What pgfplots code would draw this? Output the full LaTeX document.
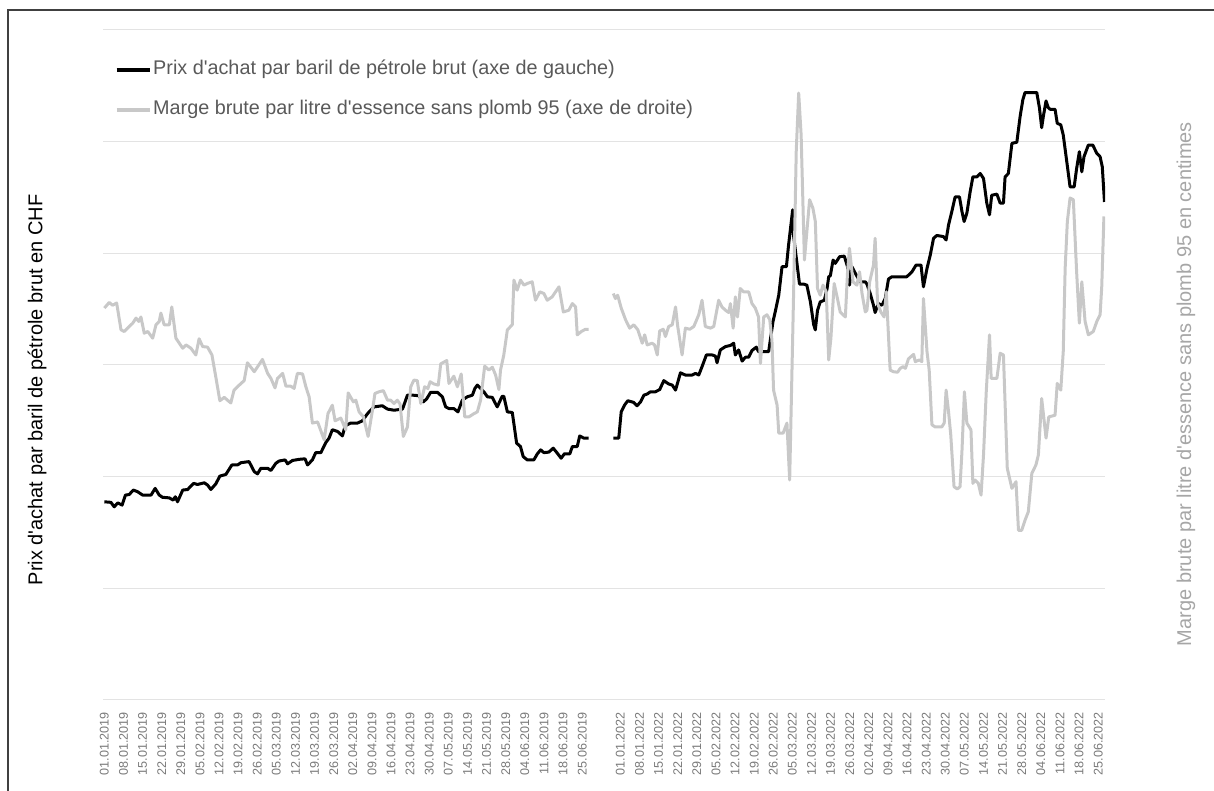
\documentclass[border=0pt]{standalone}
\usepackage{fontspec}
\setmainfont{Liberation Sans}[Ligatures=TeXOff]
\usepackage{pgfplots}
\pgfplotsset{compat=1.18}
\definecolor{gridc}{HTML}{E3E3E3}
\definecolor{grayline}{HTML}{C8C8C8}
\definecolor{ticktext}{HTML}{7A7A7A}
\definecolor{legtext}{HTML}{595959}
\definecolor{rlab}{HTML}{A6A6A6}
\definecolor{framec}{HTML}{404040}
\begin{document}
\begin{tikzpicture}
\begin{axis}[
  at={(0pt,0pt)}, anchor=south west,
  scale only axis, width=501pt, height=335pt,
  xmin=-0.5, xmax=366.5, ymin=0, ymax=120,
  axis line style={draw=none},
  ytick={0,20,40,60,80,100,120}, yticklabels={},
  ymajorgrids, grid style={gridc, line width=0.5pt},
  major tick length=0pt,
  xtick={0,7,14,21,28,35,42,49,56,63,70,77,84,91,98,105,112,119,126,133,140,147,154,161,168,175,189,196,203,210,217,224,231,238,245,252,259,266,273,280,287,294,301,308,315,322,329,336,343,350,357,364},
  xticklabels={01.01.2019,08.01.2019,15.01.2019,22.01.2019,29.01.2019,05.02.2019,12.02.2019,19.02.2019,26.02.2019,05.03.2019,12.03.2019,19.03.2019,26.03.2019,02.04.2019,09.04.2019,16.04.2019,23.04.2019,30.04.2019,07.05.2019,14.05.2019,21.05.2019,28.05.2019,04.06.2019,11.06.2019,18.06.2019,25.06.2019,01.01.2022,08.01.2022,15.01.2022,22.01.2022,29.01.2022,05.02.2022,12.02.2022,19.02.2022,26.02.2022,05.03.2022,12.03.2022,19.03.2022,26.03.2022,02.04.2022,09.04.2022,16.04.2022,23.04.2022,30.04.2022,07.05.2022,14.05.2022,21.05.2022,28.05.2022,04.06.2022,11.06.2022,18.06.2022,25.06.2022},
  xticklabel style={rotate=90, anchor=east, font=\fontsize{6.3pt}{7pt}\selectfont, text=ticktext, inner sep=0pt},
  xticklabel shift=6pt,
  legend style={at={(axis description cs:0.012,0.9104)}, anchor=west, draw=none, fill=none, inner sep=0pt, outer sep=0pt,
    font=\fontsize{9.9pt}{12pt}\selectfont, text=legtext, row sep=10pt, column sep=1pt,
    nodes={inner sep=0pt, text height=7.2pt, text depth=2.8pt}, cells={anchor=west}},
  legend image code/.code={\draw[#1, line width=1.6pt] (0pt,0pt) -- (16.5pt,0pt);},
  legend cell align=left,
]
\addplot[black, line width=1.5pt, line join=round] coordinates {
(0,35.5)(2.4,35.4)(3.6,34.6)(4.9,35.3)(6.5,34.9)(7.7,36.7)(9.1,36.8)(10.6,37.6)(12.2,37.3)(14.0,36.7)(17.1,36.7)(18.6,37.9)(20.1,36.7)(21.3,36.3)(23.8,36.2)(25.2,35.8)(26.0,36.4)(26.8,35.5)(28.7,37.6)(30.5,37.7)(32.7,38.8)(34.1,38.6)(36.6,38.9)(37.8,38.5)(39.0,37.7)(40.8,38.7)(42.3,40.1)(44.5,40.4)(46.7,42.1)(48.8,42.1)(50.0,42.5)(53.0,42.7)(54.9,40.9)(56.1,40.5)(57.3,41.5)(59.8,41.5)(61.0,41.1)(62.8,42.4)(64.0,42.8)(66.2,43.0)(67.1,42.3)(68.9,42.9)(71.3,43.1)(73.5,43.2)(74.4,42.1)(76.2,43.0)(77.4,44.3)(79.3,44.3)(81.1,46.1)(82.3,46.9)(83.5,48.4)(85.4,48.1)(87.2,47.3)(88.2,49.1)(90.2,49.6)(92.7,49.6)(94.5,50.0)(96.4,51.3)(98.8,52.5)(101.8,52.7)(103.7,52.1)(106.1,51.9)(109.2,52.1)(111.0,54.6)(112.8,54.6)(115.2,54.5)(116.8,53.4)(118.0,53.9)(119.5,55.1)(122.0,55.1)(123.8,54.3)(125.0,52.5)(126.2,52.2)(128.0,52.2)(129.5,51.6)(131.1,53.7)(132.9,54.3)(134.8,54.6)(135.7,55.8)(136.6,56.4)(137.8,55.8)(139.0,55.2)(140.3,54.3)(142.1,54.2)(142.9,53.4)(143.9,52.5)(145.7,54.4)(146.3,54.4)(147.6,51.6)(149.4,51.5)(151.0,46.0)(152.4,45.4)(153.4,43.6)(154.9,43.0)(157.3,43.0)(158.6,44.1)(159.8,44.8)(161.0,44.3)(162.8,44.4)(164.4,45.1)(165.9,44.2)(167.3,43.3)(168.5,44.1)(170.5,44.1)(171.4,45.4)(173.2,45.4)(174.1,47.3)(175.6,46.9)(177.4,46.9)
};
\addlegendentry{Prix d'achat par baril de pétrole brut (axe de gauche)}
\addplot[grayline, line width=1.5pt, line join=round] coordinates {
(0,70.2)(1.8,71.2)(3.0,70.7)(4.5,71.1)(6.1,66.3)(7.3,66.0)(10.4,67.5)(11.6,68.4)(12.6,67.8)(13.4,68.6)(14.6,65.7)(15.9,66.0)(17.7,64.8)(18.9,67.2)(20.1,67.8)(20.7,69.3)(21.9,67.2)(23.8,67.2)(24.7,70.4)(26.2,64.8)(28.7,63.0)(29.9,63.6)(31.7,63.0)(33.5,61.8)(34.7,64.7)(36.0,63.3)(37.8,63.2)(39.4,61.8)(40.8,57.9)(42.3,53.6)(43.9,54.2)(46.3,53.2)(47.5,55.5)(49.4,56.4)(51.2,57.2)(52.4,60.4)(54.9,58.8)(57.9,61.0)(59.8,58.5)(61.0,57.6)(62.5,55.9)(63.4,57.6)(65.3,58.5)(66.5,56.2)(68.3,56.2)(69.5,55.8)(70.7,58.5)(72.6,58.4)(73.8,56.1)(75.0,54.3)(76.2,49.6)(78.1,49.8)(80.5,46.6)(81.9,51.3)(83.5,52.8)(84.5,50.0)(86.6,50.5)(88.4,48.4)(89.3,55.0)(91.2,53.4)(92.1,53.7)(93.3,51.6)(94.9,50.7)(96.6,47.2)(98.2,51.9)(99.1,54.9)(100.6,55.2)(102.2,55.4)(103.7,53.7)(104.9,53.7)(106.1,53.1)(107.3,53.7)(108.3,53.0)(109.5,47.2)(111.0,48.9)(112.2,56.1)(113.4,57.3)(114.6,57.2)(115.9,53.1)(117.3,56.1)(118.5,55.8)(119.3,57.0)(120.7,56.6)(122.3,56.4)(123.2,60.2)(125.4,60.8)(126.2,56.7)(128.0,58.0)(129.3,56.1)(130.7,58.4)(132.0,50.7)(133.5,50.7)(135.4,51.3)(136.6,51.6)(137.8,53.7)(139.3,59.8)(140.8,59.1)(142.1,59.6)(143.3,58.2)(144.5,55.6)(145.1,59.1)(146.3,61.8)(147.6,66.3)(149.4,67.2)(150.0,75.2)(151.2,73.4)(152.4,75.2)(153.7,74.3)(154.9,74.6)(156.7,74.9)(157.9,71.6)(159.5,73.1)(161.0,72.8)(162.2,71.6)(164.0,72.2)(166.5,74.0)(168.1,69.5)(170.1,69.8)(171.4,71.0)(172.6,70.4)(173.2,65.4)(174.7,66.0)(176.2,66.4)(177.4,66.4)
};
\addlegendentry{Marge brute par litre d'essence sans plomb 95 (axe de droite)}
\addplot[black, line width=1.5pt, line join=round, forget plot] coordinates {
(186.4,46.9)(188.4,46.9)(189.3,51.6)(190.5,52.8)(191.7,53.6)(193.9,53.3)(195.1,52.7)(196.4,53.4)(197.6,54.6)(198.8,54.8)(200.0,55.2)(201.8,55.2)(203.4,55.6)(204.9,57.2)(206.7,56.6)(208.0,56.4)(209.2,55.5)(211.0,58.6)(212.8,58.2)(215.3,58.2)(216.5,58.5)(217.7,58.2)(218.9,59.7)(220.5,61.8)(222.6,61.8)(223.8,61.6)(224.4,60.4)(225.6,62.7)(227.5,63.3)(229.3,63.5)(230.5,63.9)(231.1,61.8)(232.3,62.7)(233.6,60.7)(234.8,61.4)(236.0,61.4)(237.2,62.6)(238.8,63.2)(239.6,62.4)(243.3,62.4)(244.9,67.8)(245.7,69.5)(247.0,72.5)(248.2,77.6)(249.8,77.6)(250.6,81.5)(252.1,87.8)(252.4,83.3)(253.9,77.3)(254.6,74.5)(256.1,74.5)(257.3,74.3)(258.6,71.3)(259.8,67.2)(260.4,66.3)(261.2,69.8)(262.2,71.3)(263.7,71.6)(264.7,73.7)(265.3,75.8)(265.9,76.0)(266.9,78.8)(267.7,78.2)(269.3,79.4)(271.0,79.5)(272.2,77.6)(272.9,74.3)(273.8,77.6)(275.4,76.1)(276.8,74.9)(278.7,74.9)(279.3,74.5)(280.5,72.8)(281.7,70.7)(282.3,69.4)(283.5,71.0)(284.8,70.7)(286.0,71.9)(287.2,75.4)(288.4,75.8)(293.9,75.8)(295.8,76.7)(297.3,77.9)(299.1,77.9)(300.0,74.0)(301.3,77.3)(302.5,79.7)(303.7,82.7)(304.9,83.2)(307.3,83.0)(308.3,82.4)(309.2,85.1)(310.4,87.5)(311.6,90.1)(313.2,90.1)(314.1,87.5)(314.9,85.7)(315.9,87.2)(317.1,91.0)(318.1,93.7)(319.6,93.7)(320.8,94.3)(322.0,93.4)(323.2,89.0)(324.2,86.9)(325.0,90.4)(326.9,90.6)(328.1,89.0)(329.3,89.0)(329.9,93.7)(331.1,94.3)(332.4,99.7)(334.2,99.9)(335.4,104.5)(336.4,107.5)(337.2,108.8)(341.5,108.8)(342.5,106.0)(343.3,102.5)(343.9,104.5)(344.9,107.3)(345.7,106.1)(346.4,105.8)(348.2,105.8)(349.0,103.3)(350.3,103.0)(351.2,101.2)(352.5,96.4)(353.7,91.9)(355.2,91.9)(356.1,95.2)(357.1,98.2)(358.0,94.6)(358.8,97.3)(360.4,99.4)(362.0,99.4)(363.5,97.9)(364.7,97.3)(365.5,95.5)(366.3,89.2)
};
\addplot[grayline, line width=1.5pt, line join=round, forget plot] coordinates {
(186.4,72.8)(187.2,71.9)(188.0,72.5)(189.3,70.2)(190.9,68.1)(192.4,66.6)(193.9,67.2)(195.4,66.3)(197.0,63.9)(197.9,65.4)(198.8,63.6)(200.6,63.9)(201.5,63.6)(202.5,61.8)(203.4,66.1)(204.7,66.4)(205.5,65.1)(206.7,66.9)(208.0,67.2)(209.2,70.4)(210.0,66.9)(211.6,61.8)(212.8,66.6)(214.4,66.4)(215.9,66.9)(217.7,69.0)(218.9,71.6)(220.1,66.9)(222.0,66.6)(223.2,66.9)(225.0,71.6)(226.2,70.4)(227.5,69.8)(228.7,69.4)(229.3,71.0)(230.3,66.6)(231.1,72.2)(231.9,68.6)(232.9,73.7)(234.1,73.1)(236.0,73.1)(237.2,71.0)(238.4,70.2)(239.6,68.6)(240.3,60.3)(241.5,68.6)(242.7,69.0)(243.7,68.1)(244.5,64.5)(245.1,55.5)(246.4,52.8)(247.0,47.8)(248.6,47.8)(250.0,49.6)(251.0,39.4)(252.4,71.9)(253.4,98.2)(254.3,108.7)(255.2,101.2)(256.4,78.8)(257.3,83.9)(258.3,89.6)(259.5,88.1)(260.4,85.7)(261.2,73.7)(262.2,72.5)(263.2,74.3)(264.4,73.1)(265.3,60.9)(266.1,64.8)(267.3,74.6)(268.5,71.9)(269.5,69.5)(271.4,68.6)(272.2,76.7)(272.9,80.9)(274.2,74.9)(275.6,74.3)(276.6,76.7)(277.5,72.8)(278.7,69.5)(279.3,69.8)(280.3,74.9)(281.7,77.9)(282.3,82.7)(283.2,71.0)(284.4,69.5)(285.6,68.6)(286.4,73.1)(287.8,59.1)(289.0,58.8)(290.5,58.7)(291.5,59.4)(292.5,59.7)(293.4,59.4)(294.5,61.1)(296.4,61.9)(297.0,60.6)(298.5,60.9)(299.4,60.6)(300.0,71.9)(301.3,62.4)(302.1,59.1)(303.1,49.3)(304.3,48.9)(306.7,48.9)(307.6,49.6)(308.3,55.5)(309.2,51.6)(310.0,47.5)(311.2,38.2)(312.4,37.8)(313.4,38.2)(314.1,44.5)(315.0,55.2)(315.9,49.6)(317.4,48.4)(318.1,38.8)(318.9,39.4)(320.1,38.8)(321.1,36.7)(322.0,43.9)(323.0,55.2)(324.2,65.4)(324.8,57.6)(326.9,57.6)(328.1,62.1)(329.3,61.8)(330.7,41.5)(332.4,37.9)(333.9,39.1)(334.8,30.4)(336.0,30.4)(337.2,32.2)(338.4,33.7)(339.7,40.6)(341.2,42.1)(342.1,43.9)(343.3,54.0)(344.9,46.9)(345.9,50.7)(348.2,51.0)(349.0,56.7)(350.3,55.5)(351.2,62.4)(351.9,77.3)(352.7,85.7)(353.7,89.9)(354.9,89.6)(356.1,76.7)(357.1,67.5)(358.0,74.9)(359.2,67.8)(360.4,65.4)(362.2,66.0)(363.5,67.8)(364.7,69.0)(365.3,74.0)(366.1,86.6)
};
\end{axis}
\node[rotate=90, font=\fontsize{10pt}{12pt}\selectfont, text=black, inner sep=0pt] at (-33pt,155pt) {Prix d'achat par baril de pétrole brut en CHF};
\node[rotate=90, font=\fontsize{10pt}{12pt}\selectfont, text=rlab, inner sep=0pt] at (541.5pt,158pt) {Marge brute par litre d'essence sans plomb 95 en centimes};
\draw[framec, line width=0.6pt] (-47.5pt,-46pt) -- (-47.5pt,345pt) -- (556pt,345pt);
\pgfresetboundingbox
\useasboundingbox (-51.5pt,-45.5pt) rectangle (555.5pt,350pt);
\end{tikzpicture}
\end{document}
